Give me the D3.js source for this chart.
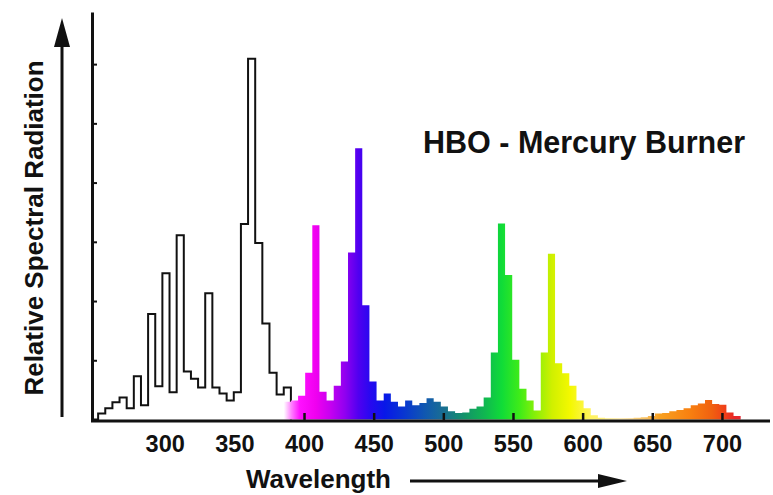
<!DOCTYPE html>
<html>
<head>
<meta charset="utf-8">
<script src="https://cdn.jsdelivr.net/npm/d3@7"></script>
<style>
  body { margin: 0; background: #fff; }
  svg { display: block; font-family: "Liberation Sans", Arial, sans-serif; font-weight: bold; }
</style>
</head>
<body>
<svg width="773" height="495"></svg>
<script>
// histogram bins (nm)
const binStart = 252.2
const binWidth = 5.125

// UV part: outline only, bins 0..26
const uvValues = [0.10, 0.19, 0.29, 0.37, 0.19, 0.73, 0.24, 1.78, 0.56, 2.47, 0.46, 3.11, 0.81, 0.69,
    0.54, 2.13, 0.54, 0.44, 0.32, 0.46, 3.30, 6.09, 2.98, 1.62, 0.79, 0.42, 0.54]

// visible part: filled with spectrum colours, starts at bin 26
const visFirstBin = 26
const visValues = [0.30, 0.32, 0.40, 0.79, 3.28, 0.47, 0.32, 0.57, 0.98, 2.82, 4.58, 1.93, 0.64, 0.32,
    0.44, 0.30, 0.22, 0.32, 0.24, 0.28, 0.36, 0.30, 0.22, 0.14, 0.11, 0.12, 0.18, 0.22, 0.37, 1.13,
    3.31, 2.44, 1.01, 0.52, 0.32, 0.15, 1.13, 2.80, 0.95, 0.78, 0.57, 0.32, 0.19, 0.07, 0.03, 0.02,
    0.02, 0.02, 0.02, 0.03, 0.04, 0.06, 0.10, 0.11, 0.14, 0.16, 0.19, 0.24, 0.27, 0.33, 0.26, 0.25,
    0.12, 0.06]

const tickLabels = [300, 350, 400, 450, 500, 550, 600, 650, 700]
const yTicks = [1, 2, 3, 4, 5, 6]

// spectrum colour stops
const stopNm = [385.5, 391, 397, 408.5, 418.5, 429.5, 439, 447.5, 458, 472.5, 487, 501, 515.5, 530,
    542, 555, 566, 578, 591, 605, 627, 645, 655.5, 677, 693, 702, 709, 716.5]
const stopColors = ['#ffffff', '#ff80ff', '#ff10ff', '#f000f0', '#c800f0', '#9000f0', '#5000f0',
    '#2808f0', '#0818e8', '#0838d0', '#1058b0', '#1a7090', '#129468', '#10b850', '#10dc38',
    '#40ec18', '#88f008', '#d0f000', '#f4f800', '#fff45a', '#ffe8a0', '#f8c060', '#f8a020',
    '#f88010', '#f06010', '#f04018', '#e82828', '#e02838']

const svg = d3.select('svg')

const x = d3.scaleLinear()
    .domain([247.8, 734.5])
    .range([92, 770])

const y = d3.scaleLinear()
    .domain([0, 6.88])
    .range([419.5, 12])

const binNm = i => binStart + i * binWidth

// UV outline
const uvPoints = [[x.domain()[0], 0]]
uvValues.forEach((v, i) => uvPoints.push([binNm(i), v]))
uvPoints.push([binNm(uvValues.length), 0])

const line = d3.line()
    .x(d => x(d[0]))
    .y(d => y(d[1]))
    .curve(d3.curveStepAfter)

svg.append('path')
    .attr('d', line(uvPoints))
    .attr('fill', 'none')
    .attr('stroke', '#111')
    .attr('stroke-width', 2)

// spectrum gradient
const grad = svg.append('defs').append('linearGradient')
    .attr('id', 'spectrum')
    .attr('gradientUnits', 'userSpaceOnUse')
    .attr('x1', x(stopNm[0])).attr('x2', x(stopNm[stopNm.length - 1]))
    .attr('y1', 0).attr('y2', 0)

const first = stopNm[0]
const span = stopNm[stopNm.length - 1] - first
grad.selectAll('stop')
    .data(stopNm)
    .enter()
    .append('stop')
    .attr('offset', d => (d - first) / span)
    .attr('stop-color', (d, i) => stopColors[i])

// coloured bars as one stepped area
const visPoints = visValues.map((v, i) => [binNm(visFirstBin + i), v])
visPoints.push([binNm(visFirstBin + visValues.length), visValues[visValues.length - 1]])

const area = d3.area()
    .x(d => x(d[0]))
    .y0(y(0))
    .y1(d => y(d[1]))
    .curve(d3.curveStepAfter)

svg.append('path')
    .attr('d', area(visPoints))
    .attr('fill', 'url(#spectrum)')

// y axis with inside ticks, no labels
svg.append('g')
    .attr('transform', 'translate(92,0)')
    .call(d3.axisRight(y).tickValues(yTicks).tickSize(5).tickSizeOuter(0).tickFormat(''))
    .call(g => g.select('.domain').attr('stroke', '#111').attr('stroke-width', 3))
    .call(g => g.selectAll('.tick line').attr('stroke', '#111').attr('stroke-width', 2))

// x axis baseline
svg.append('line')
    .attr('x1', 91).attr('x2', x.range()[1])
    .attr('y1', 421).attr('y2', 421)
    .attr('stroke', '#111')
    .attr('stroke-width', 3)

const xAxis = svg.append('g')
    .attr('transform', 'translate(0,420)')
    .call(d3.axisBottom(x).tickValues(tickLabels).tickSizeInner(-7).tickSizeOuter(0).tickPadding(15))

xAxis.select('.domain').remove()
xAxis.selectAll('.tick line')
    .filter(d => d < 400)
    .remove()
xAxis.selectAll('.tick line')
    .attr('stroke', '#111')
    .attr('stroke-width', 2.5)
xAxis.selectAll('.tick text')
    .attr('font-size', 23.5)
    .attr('font-family', '"Liberation Sans", Arial, sans-serif')
    .attr('font-weight', 'bold')
    .attr('fill', '#111')

// titles
svg.append('text')
    .attr('x', 423)
    .attr('y', 153)
    .attr('font-size', 30.5)
    .attr('fill', '#111')
    .text('HBO - Mercury Burner')

svg.append('text')
    .attr('x', 246)
    .attr('y', 488)
    .attr('font-size', 26)
    .attr('fill', '#111')
    .text('Wavelength')

svg.append('text')
    .attr('transform', 'translate(43,228) rotate(-90)')
    .attr('text-anchor', 'middle')
    .attr('font-size', 26)
    .attr('fill', '#111')
    .text('Relative Spectral Radiation')

// arrows
svg.append('line')
    .attr('x1', 410).attr('x2', 602)
    .attr('y1', 481).attr('y2', 481)
    .attr('stroke', '#111').attr('stroke-width', 3)
svg.append('path')
    .attr('d', 'M598,474 L627,481 L598,488 Z')
    .attr('fill', '#111')

svg.append('line')
    .attr('x1', 62).attr('x2', 62)
    .attr('y1', 417).attr('y2', 44)
    .attr('stroke', '#111').attr('stroke-width', 3)
svg.append('path')
    .attr('d', 'M54,47 L62,18 L70,47 Z')
    .attr('fill', '#111')
</script>
</body>
</html>
